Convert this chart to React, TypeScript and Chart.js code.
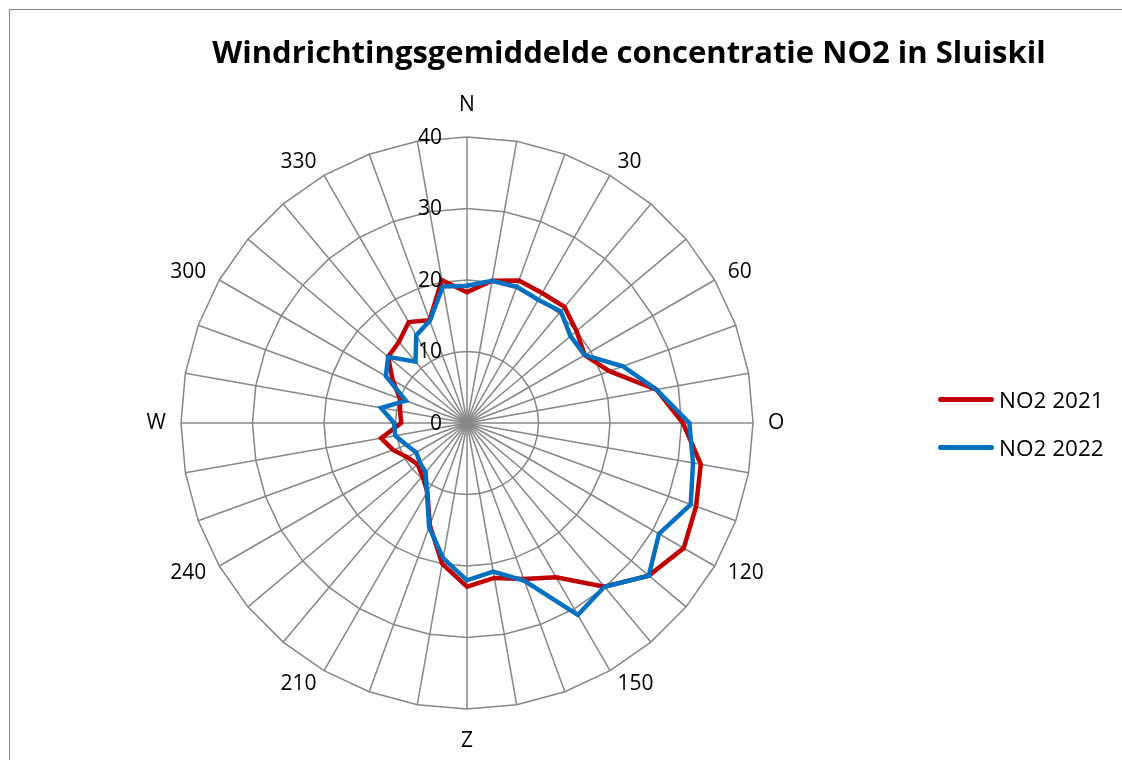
import React, { useEffect, useRef } from 'react';
import { Chart, registerables } from 'chart.js';

Chart.register(...registerables);

// ---- Data ----
const TITLE = 'Windrichtingsgemiddelde concentratie NO2 in Sluiskil';

// 36 wind directions (every 10 degrees), only every 30 degrees labelled
const DIRECTION_LABELS = [
  'N', '', '', '30', '', '', '60', '', '', 'O', '', '', '120', '', '', '150', '', '',
  'Z', '', '', '210', '', '', '240', '', '', 'W', '', '', '300', '', '', '330', '', '',
];

const NO2_2021 = [
  18.3, 20.2, 21.2, 21.0, 21.2, 20.0, 19.0, 21.2, 26.9, 30.2, 33.2, 34.1,
  35.0, 33.2, 29.9, 24.9, 23.2, 22.0, 22.9, 20.0, 15.2, 11.1, 9.7, 9.0,
  9.6, 11.0, 12.2, 9.2, 9.5, 10.0, 12.0, 14.4, 14.8, 16.3, 15.3, 20.3,
];

const NO2_2022 = [
  19.2, 20.2, 20.3, 19.9, 20.4, 18.9, 19.0, 23.2, 26.9, 31.1, 32.1, 33.3,
  31.0, 33.2, 29.9, 31.0, 23.5, 21.1, 22.0, 19.2, 15.5, 11.2, 9.0, 8.6,
  8.2, 9.0, 10.2, 10.2, 12.2, 9.1, 13.1, 14.4, 11.2, 14.2, 15.2, 19.4,
];

const SERIES_NAMES = ['NO2 2021', 'NO2 2022'];
const SERIES_COLORS = ['#C00000', '#0070C0'];

const AXIS_MIN = 0;
const AXIS_MAX = 40;
const AXIS_STEP = 10;

const FONT = '"Open Sans", "Noto Sans", sans-serif';
const GRID_COLOR = '#878787';

// Draws the direction labels and value labels in the Excel style,
// placed with the radial scale's own geometry.
const excelLabelsPlugin = {
  id: 'excelLabels',
  afterDraw(chart: any) {
    const s = chart.scales.r;
    const ctx = chart.ctx as CanvasRenderingContext2D;
    const labels = chart.data.labels as string[];
    const n = labels.length;
    ctx.save();
    ctx.fillStyle = '#000000';
    ctx.font = `21px ${FONT}`;
    ctx.textBaseline = 'middle';
    labels.forEach((lab, i) => {
      if (!lab) return;
      const p = s.getPointPosition(i, s.drawingArea + 15);
      const deg = (i * 360) / n;
      if (deg === 0) {
        ctx.textAlign = 'center';
        ctx.fillText(lab, p.x, p.y - 17);
      } else if (deg === 180) {
        ctx.textAlign = 'center';
        ctx.fillText(lab, p.x, p.y + 17);
      } else {
        ctx.textAlign = deg < 180 ? 'left' : 'right';
        ctx.fillText(lab, p.x, p.y);
      }
    });
    ctx.textAlign = 'right';
    s.ticks.forEach((t: any) => {
      const d = s.getDistanceFromCenterForValue(t.value);
      ctx.fillText(String(t.value), s.xCenter - 25, s.yCenter - d + 1);
    });
    ctx.restore();
  },
};

function RadarChart() {
  const ref = useRef<HTMLCanvasElement | null>(null);

  useEffect(() => {
    if (!ref.current) return;
    const chart = new Chart(ref.current, {
      type: 'radar',
      data: {
        labels: DIRECTION_LABELS,
        datasets: [
          {
            label: SERIES_NAMES[0],
            data: NO2_2021,
            borderColor: SERIES_COLORS[0],
            backgroundColor: SERIES_COLORS[0],
            borderWidth: 4.5,
            fill: false,
            pointRadius: 0,
            order: 2,
          },
          {
            label: SERIES_NAMES[1],
            data: NO2_2022,
            borderColor: SERIES_COLORS[1],
            backgroundColor: SERIES_COLORS[1],
            borderWidth: 4.5,
            fill: false,
            pointRadius: 0,
            order: 1,
          },
        ],
      },
      options: {
        responsive: false,
        animation: false,
        layout: { padding: { left: 181, right: 368, top: 137, bottom: 50 } },
        plugins: {
          legend: { display: false },
          title: { display: false },
          tooltip: { enabled: false },
        },
        elements: { line: { tension: 0, borderJoinStyle: 'miter' } },
        scales: {
          r: {
            min: AXIS_MIN,
            max: AXIS_MAX,
            ticks: { stepSize: AXIS_STEP, display: false },
            grid: { color: GRID_COLOR, lineWidth: 1.5, circular: false },
            angleLines: { color: GRID_COLOR, lineWidth: 1.5 },
            pointLabels: { display: false },
          },
        },
      },
      plugins: [excelLabelsPlugin],
    } as any);
    return () => chart.destroy();
  }, []);

  return (
    <canvas
      ref={ref}
      width={1122}
      height={760}
      style={{ position: 'absolute', left: 0, top: 0, width: 1122, height: 760 }}
    />
  );
}

export default function App() {
  return (
    <div
      style={{
        position: 'fixed',
        left: 0,
        top: 0,
        width: 1122,
        height: 760,
        overflow: 'hidden',
        background: '#ffffff',
      }}
    >
      <div
        style={{
          position: 'absolute',
          left: 9,
          top: 9,
          width: 1400,
          height: 1000,
          border: `1.5px solid ${GRID_COLOR}`,
          boxSizing: 'border-box',
        }}
      />
      <RadarChart />
      <div
        style={{
          position: 'absolute',
          left: 0,
          width: 1258,
          top: 30,
          height: 44,
          lineHeight: '44px',
          textAlign: 'center',
          font: `bold 31px ${FONT}`,
          color: '#000',
          whiteSpace: 'nowrap',
        }}
      >
        {TITLE}
      </div>
      {SERIES_NAMES.map((name, i) => (
        <div
          key={name}
          style={{
            position: 'absolute',
            left: 938,
            top: 399 + 48 * i - 15,
            height: 30,
            display: 'flex',
            alignItems: 'center',
            font: `22.5px ${FONT}`,
            color: '#000',
            whiteSpace: 'nowrap',
          }}
        >
          <div
            style={{
              width: 56,
              height: 5,
              borderRadius: 2.5,
              background: SERIES_COLORS[i],
              marginRight: 5,
            }}
          />
          <span>{name}</span>
        </div>
      ))}
    </div>
  );
}
